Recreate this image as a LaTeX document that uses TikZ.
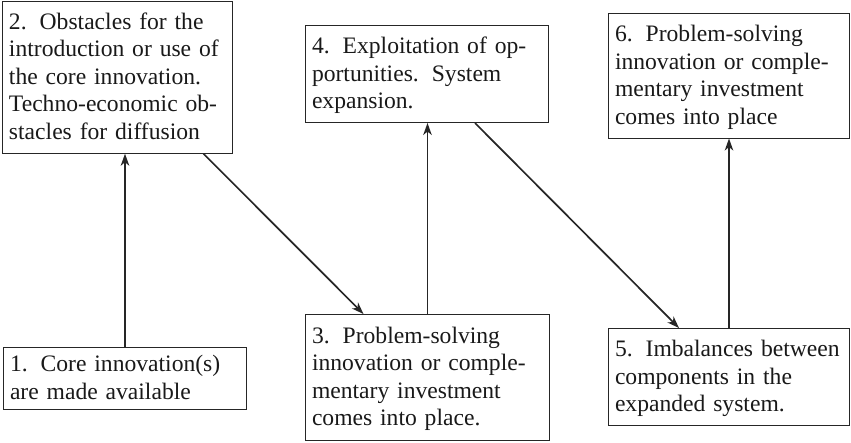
\documentclass[tikz,border=0pt]{standalone}
\usepackage{fontspec}
\setmainfont{Liberation Serif}
\usetikzlibrary{arrows.meta,calc}
\newcommand{\sgap}{\hspace{0.55em}}
\newcommand{\tline}[1]{\mbox{#1}}
\begin{document}
\begin{tikzpicture}[x=1pt,y=1pt,
  box/.style={draw=black!85, line width=1pt, anchor=north west, align=left,
    inner xsep=6.5pt, inner ysep=8pt, text=black!90,
    font=\fontsize{23.6}{27.5}\selectfont,
    execute at begin node={\rule{0pt}{20pt}},
    execute at end node={\rule[-6pt]{0pt}{6pt}}},
  arr/.style={draw=black!85, line width=1.7pt,
    -{Stealth[length=12pt,width=8.5pt,inset=3.5pt]}}]
\useasboundingbox (0,0) rectangle (851,-442);
\node[box, text width=217pt] (B2) at (2,-0.7) {\tline{2.\sgap Obstacles for the}\\ \tline{introduction or use of}\\ \tline{the core innovation.}\\ \tline{Techno-economic ob-}\\ \tline{stacles for diffusion}};
\node[box, text width=230pt, inner ysep=4pt] (B1) at (3,-347) {\tline{1.\sgap Core innovation(s)}\\ \tline{are made available}};
\node[box, text width=231pt, minimum height=126pt] (B3) at (305,-314) {\tline{3.\sgap Problem-solving}\\ \tline{innovation or comple-}\\ \tline{mentary investment}\\ \tline{comes into place.}};
\node[box, text width=230pt] (B4) at (305,-25) {\tline{4.\sgap Exploitation of op-}\\ \tline{portunities.\sgap System}\\ \tline{expansion.}};
\node[box, text width=228pt] (B5) at (608,-328) {\tline{5.\sgap Imbalances between}\\ \tline{components in the}\\ \tline{expanded system.}};
\node[box, text width=228pt] (B6) at (608,-13) {\tline{6.\sgap Problem-solving}\\ \tline{innovation or comple-}\\ \tline{mentary investment}\\ \tline{comes into place}};
\draw[arr] (B1.north) -- (B1.north |- B2.south);
\draw[arr] ([xshift=86pt]B2.south) -- ([xshift=-64pt]B3.north);
\draw[arr] (B3.north) -- (B3.north |- B4.south);
\draw[arr] ([xshift=48pt]B4.south) -- ([xshift=-50pt]B5.north);
\draw[arr] (B5.north) -- (B5.north |- B6.south);
\end{tikzpicture}
\end{document}
